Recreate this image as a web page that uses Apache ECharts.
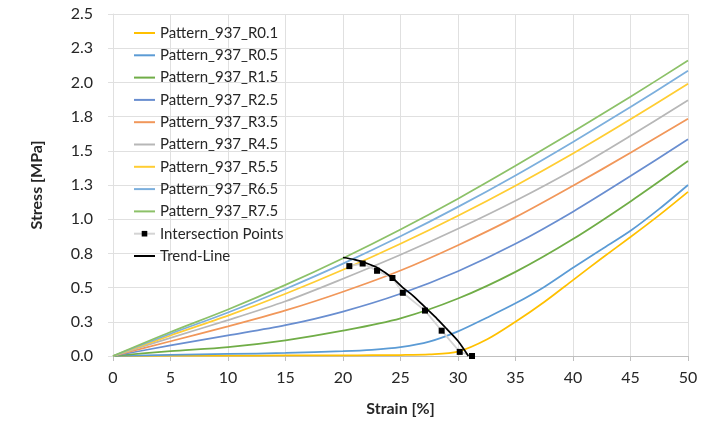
<!doctype html>
<html>
<head>
<meta charset="utf-8">
<script src="https://cdn.jsdelivr.net/npm/echarts@6/dist/echarts.min.js"></script>
<style>
* { margin: 0px; padding: 0px; }
#chart { width: 728px; height: 423px; background: #fff; }
</style>
</head>
<body>
<div id="chart"></div>
<script>
// strain [%] / stress [MPa] pairs
var strainMain = [0, 5, 10, 15, 20, 25, 30, 35, 40, 45, 50];

var r75 = [0, 0.175, 0.34, 0.52, 0.715, 0.925, 1.15, 1.39, 1.64, 1.895, 2.16];
var r65 = [0, 0.163, 0.318, 0.49, 0.675, 0.875, 1.09, 1.32, 1.565, 1.82, 2.085];
var r55 = [0, 0.15, 0.295, 0.455, 0.63, 0.82, 1.025, 1.245, 1.48, 1.73, 1.99];
var r45 = [0, 0.133, 0.262, 0.40, 0.565, 0.74, 0.93, 1.135, 1.36, 1.61, 1.87];
var r35 = [0, 0.108, 0.216, 0.333, 0.47, 0.625, 0.81, 1.015, 1.245, 1.485, 1.735];
var r25 = [0, 0.077, 0.15, 0.225, 0.325, 0.455, 0.62, 0.82, 1.055, 1.315, 1.585];
var r15 = [0, 0.035, 0.065, 0.115, 0.185, 0.275, 0.42, 0.615, 0.855, 1.13, 1.425];

var strainLow = [0, 5, 10, 15, 20, 22.5, 25, 27.5, 30, 32.5, 35, 37.5, 40, 42.5, 45, 47.5, 50];
var r05 = [0, 0.008, 0.015, 0.022, 0.035, 0.045, 0.065, 0.105, 0.18, 0.28, 0.385, 0.505, 0.645, 0.78, 0.915, 1.075, 1.25];
var r01 = [0, 0.002, 0.003, 0.004, 0.005, 0.006, 0.007, 0.012, 0.032, 0.12, 0.25, 0.395, 0.555, 0.715, 0.87, 1.03, 1.2];

var ptStrain = [20.55, 21.71, 22.96, 24.3, 25.2, 27.13, 28.58, 30.15, 31.22];
var ptStress = [0.657, 0.676, 0.623, 0.57, 0.462, 0.332, 0.185, 0.03, 0.0];

var trendStrain = [20.0, 21.0, 22.0, 23.0, 24.3, 25.2, 26.1, 27.3, 28.2, 29.0, 30.0, 30.9];
var trendStress = [0.72, 0.705, 0.68, 0.645, 0.57, 0.5, 0.44, 0.343, 0.27, 0.2, 0.11, 0.0];

var yTickLabels = ['0.0', '0.3', '0.5', '0.8', '1.0', '1.3', '1.5', '1.8', '2.0', '2.3', '2.5'];

var pair = function (xs, ys) {
	return xs.map(function (x, i) { return [x, ys[i]]; });
};

var curves = [
	{ name: 'Pattern_937_R0.1', x: strainLow, y: r01, color: '#FFC000' },
	{ name: 'Pattern_937_R0.5', x: strainLow, y: r05, color: '#5B9BD5' },
	{ name: 'Pattern_937_R1.5', x: strainMain, y: r15, color: '#70AD47' },
	{ name: 'Pattern_937_R2.5', x: strainMain, y: r25, color: '#698ED0' },
	{ name: 'Pattern_937_R3.5', x: strainMain, y: r35, color: '#F1975A' },
	{ name: 'Pattern_937_R4.5', x: strainMain, y: r45, color: '#B7B7B7' },
	{ name: 'Pattern_937_R5.5', x: strainMain, y: r55, color: '#FFCD33' },
	{ name: 'Pattern_937_R6.5', x: strainMain, y: r65, color: '#7CAFDD' },
	{ name: 'Pattern_937_R7.5', x: strainMain, y: r75, color: '#8CC168' }
];

var series = curves.map(function (c) {
	return {
		name: c.name,
		type: 'line',
		data: pair(c.x, c.y),
		smooth: 0.3,
		symbol: 'none',
		lineStyle: { color: c.color, width: 1.75 },
		itemStyle: { color: c.color }
	};
});

series.push({
	name: 'Intersection Points',
	type: 'line',
	data: pair(ptStrain, ptStress),
	symbol: 'rect',
	symbolSize: 6,
	itemStyle: { color: '#000' },
	lineStyle: { color: '#d4d4d4', width: 1.75 },
	z: 3
});
series.push({
	name: 'Trend-Line',
	type: 'line',
	data: pair(trendStrain, trendStress),
	smooth: 0.3,
	symbol: 'none',
	itemStyle: { color: '#000' },
	lineStyle: { color: '#000', width: 1.75 },
	z: 4
});

// legend: plain lines, only the points series keeps its square marker
var legendData = series.map(function (s) {
	return s.name === 'Intersection Points'
		? { name: s.name }
		: { name: s.name, itemStyle: { opacity: 0 } };
});

var myChart = echarts.init(document.getElementById('chart'));
var option = {
	animation: false,
	textStyle: { fontFamily: 'Lato' },
	grid: { left: 113, right: 40, top: 14, bottom: 67 },
	legend: {
		orient: 'vertical',
		left: 128,
		top: 19,
		itemWidth: 21,
		itemHeight: 7,
		itemGap: 4.3,
		textStyle: { fontFamily: 'Lato', fontSize: 15, color: '#262626', lineHeight: 18 },
		data: legendData
	},
	xAxis: {
		type: 'value',
		min: 0,
		max: 50,
		interval: 5,
		name: 'Strain [%]',
		nameLocation: 'middle',
		nameGap: 45,
		nameTextStyle: { fontFamily: 'Lato', fontSize: 16, fontWeight: 'bold', color: '#262626' },
		axisLine: { lineStyle: { color: '#bfbfbf', width: 1 } },
		axisTick: { show: true, length: 5, lineStyle: { color: '#bfbfbf' } },
		axisLabel: { margin: 14, fontSize: 16, color: '#262626' },
		splitLine: { show: true, lineStyle: { color: '#e0e0e0', width: 1 } }
	},
	yAxis: {
		type: 'value',
		min: 0,
		max: 2.5,
		interval: 0.25,
		name: 'Stress [MPa]',
		nameLocation: 'middle',
		nameGap: 68,
		nameTextStyle: { fontFamily: 'Lato', fontSize: 16, fontWeight: 'bold', color: '#262626' },
		axisLine: { show: true, lineStyle: { color: '#e0e0e0' } },
		axisTick: { show: true, length: 5, lineStyle: { color: '#e0e0e0' } },
		axisLabel: {
			margin: 20,
			fontSize: 16,
			color: '#262626',
			formatter: function (v) { return yTickLabels[Math.round(v / 0.25)]; }
		},
		splitLine: { show: true, lineStyle: { color: '#e0e0e0', width: 1 } }
	},
	series: series
};
myChart.setOption(option);
</script>
</body>
</html>
